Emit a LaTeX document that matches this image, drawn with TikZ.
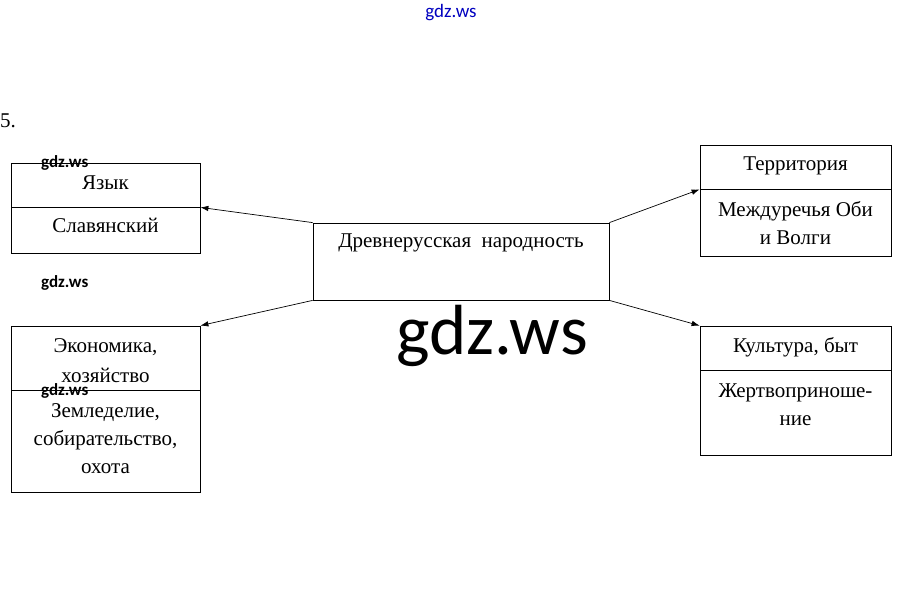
\documentclass[tikz,border=0pt]{standalone}
\usepackage{fontspec}
\setmainfont{Liberation Serif}
\newfontfamily\wmfont{Carlito}
\usetikzlibrary{arrows.meta}
\tikzset{
  box/.style={draw=black, line width=0.8pt, inner sep=0pt, minimum width=#1},
  lbl/.style={font=\fontsize{21}{28}\selectfont, align=center, inner sep=0pt, anchor=base},
  conn/.style={draw=black, line width=0.7pt, -{Latex[length=8pt,width=5.5pt]}},
  wm/.style={font=\wmfont\bfseries\fontsize{17}{17}\selectfont, inner sep=0pt, anchor=base west},
}
\begin{document}
\begin{tikzpicture}[x=1pt,y=-1pt]
\useasboundingbox (0,0) rectangle (901,602);
% number
\node[lbl, anchor=base west] (num) at (0,127) {5.};
% center box
\node[box=296pt, minimum height=77pt] (c) at (461,261.5) {};
\node[lbl] (ctext) at (461,247) {Древнерусская\ \ народность};
% Язык
\node[box=189pt, minimum height=44pt] (yT) at (105.5,185) {};
\node[box=189pt, minimum height=46pt] (yB) at (105.5,230) {};
\node[lbl] (yTt) at (105.5,189) {Язык};
\node[lbl] (yBt) at (105.5,232) {Славянский};
% Территория
\node[box=191pt, minimum height=44pt] (tT) at (795.5,167) {};
\node[box=191pt, minimum height=67pt] (tB) at (795.5,222.5) {};
\node[lbl] (tTt) at (795.5,170) {Территория};
\node[lbl] (tBt) at (795.5,244) {Междуречья Оби\\и Волги};
% Экономика
\node[box=189pt, minimum height=64pt] (eT) at (105.5,358) {};
\node[box=189pt, minimum height=102pt] (eB) at (105.5,441) {};
\node[lbl, font=\fontsize{21}{30}\selectfont] (eTt) at (105.5,382) {Экономика,\\хозяйство};
\node[lbl] (eBt) at (105.5,473) {Земледелие,\\собирательство,\\охота};
% Культура
\node[box=191pt, minimum height=44pt] (kT) at (795.5,348) {};
\node[box=191pt, minimum height=85pt] (kB) at (795.5,412.5) {};
\node[lbl] (kTt) at (795.5,352) {Культура, быт};
\node[lbl] (kBt) at (795.5,425) {Жертвоприноше-\\ние};
% connectors
\draw[conn] (c.north west) -- (yT.south east);
\draw[conn] (c.south west) -- (eT.north east);
\draw[conn] (c.north east) -- (tT.south west);
\draw[conn] (c.south east) -- (kT.north west);
% watermarks
\node[font=\wmfont\fontsize{19}{19}\selectfont, text=blue!75!black, inner sep=0pt, anchor=base] (wm0) at (451,18) {gdz.ws};
\node[wm] (wm1) at (41,167) {gdz.ws};
\node[wm] (wm2) at (41,287) {gdz.ws};
\node[wm] (wm3) at (41,395) {gdz.ws};
\node[font=\wmfont\fontsize{71}{71}\selectfont, inner sep=0pt, anchor=base] (wm4) at (492,354) {gdz.ws};
\end{tikzpicture}
\end{document}
